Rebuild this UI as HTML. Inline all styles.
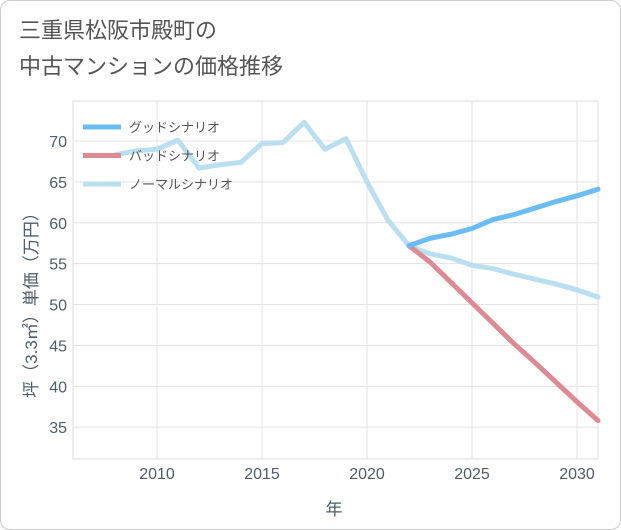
<!DOCTYPE html>
<html><head><meta charset="utf-8"><style>
body{margin:0;background:#fff;}
#card{position:absolute;left:0;top:0;width:619px;height:528px;border:1px solid #ccc;border-radius:10px;background:#fff;overflow:hidden;}
#title{position:absolute;left:18px;top:12px;font:22px "Liberation Sans","Noto Sans CJK JP",sans-serif;color:#555;line-height:36px;}
svg text{font-family:"Liberation Sans","Noto Sans CJK JP",sans-serif;}
</style></head><body>
<div id="card">
<div id="title">三重県松阪市殿町の<br>中古マンションの価格推移</div>
<svg id="chart" width="621" height="530" style="position:absolute;left:0;top:0"></svg>
</div>
<script>
const normalYears=[2008,2009,2010,2011,2012,2013,2014,2015,2016,2017,2018,2019,2020,2021,2022,2023,2024,2025,2026,2027,2028,2029,2030,2031];
const normalVals=[68.3,68.8,69.0,70.1,66.7,67.1,67.4,69.7,69.8,72.3,69.0,70.3,65.0,60.3,57.2,56.2,55.7,54.8,54.4,53.7,53.1,52.5,51.8,50.9];
const goodYears=[2022,2023,2024,2025,2026,2027,2028,2029,2030,2031];
const goodVals=[57.2,58.1,58.6,59.3,60.4,61.0,61.8,62.6,63.3,64.1];
const badYears=[2022,2023,2024,2025,2026,2027,2028,2029,2030,2031];
const badVals=[57.2,55.2,52.7,50.2,47.7,45.2,42.9,40.5,38.1,35.8];
const xTicks=[2010,2015,2020,2025,2030];
const yTicks=[35,40,45,50,55,60,65,70];
const legendLabels=["グッドシナリオ","バッドシナリオ","ノーマルシナリオ"];
const L=72,R=597,T=100,B=458,X0=2006,X1=2031,Y0=31.1,Y1=74.9;
const sx=v=>L+(v-X0)/(X1-X0)*(R-L);
const sy=v=>B-(v-Y0)/(Y1-Y0)*(B-T);
const svg=document.getElementById('chart');
const NS='http://www.w3.org/2000/svg';
function mk(t,a,p){const e=document.createElementNS(NS,t);for(const k in a)e.setAttribute(k,a[k]);(p||svg).appendChild(e);return e;}
for(const t of xTicks){const l=mk('line',{x1:sx(t),x2:sx(t),y1:T,y2:B,stroke:'#e3e3e3'});
const tx=mk('text',{x:sx(t),y:478,'text-anchor':'middle','font-size':16,fill:'#4d5d6d'});tx.textContent=t;}
for(const t of yTicks){const l=mk('line',{x1:L,x2:R,y1:sy(t),y2:sy(t),stroke:'#e3e3e3'});
const tx=mk('text',{x:66,y:sy(t)+6,'text-anchor':'end','font-size':16,fill:'#4d5d6d'});tx.textContent=t;}
const ax=mk('rect',{x:L,y:T,width:R-L,height:B-T,fill:'none',stroke:'#ddd'});
function line(xs,ys,c,n){const p=mk('polyline',{points:xs.map((x,i)=>sx(x)+','+sy(ys[i])).join(' '),fill:'none',stroke:c,'stroke-width':5,'stroke-linejoin':'round','stroke-linecap':'round'});}
line(normalYears,normalVals,'#b9dff0','normal-scenario-line');
line(badYears,badVals,'#dd8a93','bad-scenario-line');
line(goodYears,goodVals,'#6bbcf2','good-scenario-line');
const cols=['#6bbcf2','#dd8a93','#b9dff0'];
legendLabels.forEach((s,i)=>{const y=126+i*28.5;
const l=mk('line',{x1:82,x2:120,y1:y,y2:y,stroke:cols[i],'stroke-width':5});
const t=mk('text',{x:128,y:y+5,'font-size':13,fill:'#555'});t.textContent=s;});
const xt=mk('text',{x:333,y:514,'text-anchor':'middle','font-size':17,fill:'#4d5d6d'});xt.textContent='年';
const yt=mk('text',{x:0,y:0,'text-anchor':'middle','font-size':17,fill:'#4d5d6d',transform:'translate(36,300) rotate(-90)'});yt.textContent='坪（3.3㎡）単価（万円）';
</script>
</body></html>
